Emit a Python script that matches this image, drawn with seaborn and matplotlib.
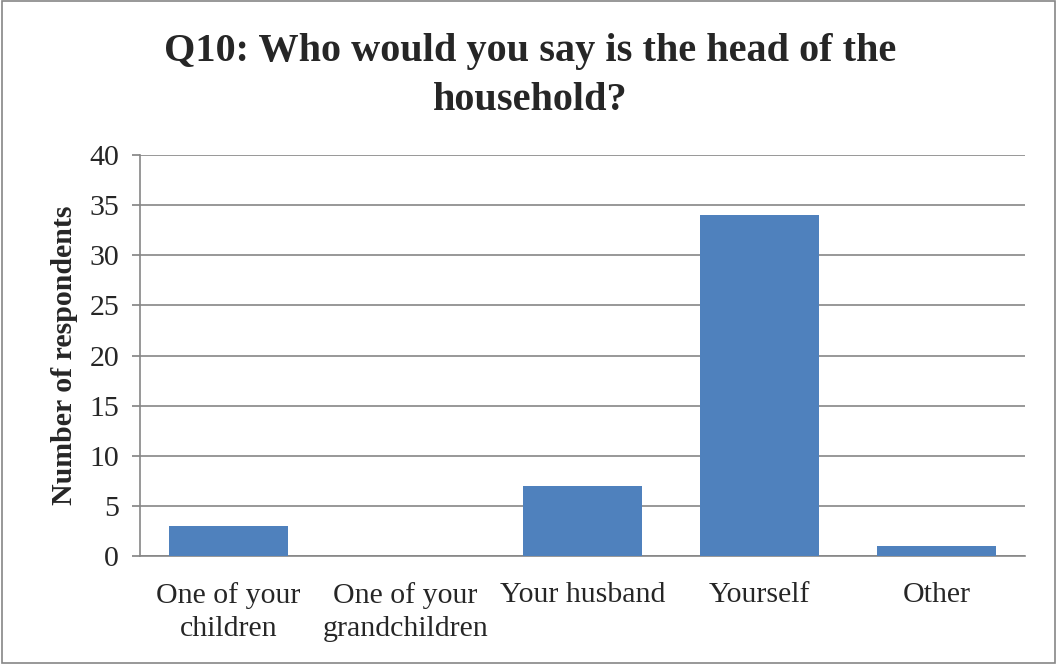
import matplotlib
matplotlib.use("Agg")
import matplotlib.pyplot as plt
import seaborn as sns
import pandas as pd
from matplotlib.patches import Rectangle

categories = ["One of your\nchildren", "One of your\ngrandchildren", "Your husband", "Yourself", "Other"]
values = [3, 0, 7, 34, 1]
yticks = [0, 5, 10, 15, 20, 25, 30, 35, 40]

sns.set_theme(style="white")
plt.rcParams['font.family'] = ['Liberation Serif', 'DejaVu Serif']

df = pd.DataFrame({"cat": categories, "val": values})

fig = plt.figure(figsize=(10.57, 6.64), dpi=100)
ax = fig.add_axes([140/1057, 1-556/664, 885/1057, 401/664])

sns.barplot(data=df, x="cat", y="val", color="#4F81BD", saturation=1, width=0.667,
            linewidth=0, ax=ax, zorder=3)

ax.set_ylim(0, 40)
ax.set_yticks(yticks)
ax.set_xlim(-0.5, 4.5)
ax.yaxis.grid(True, color="#868686", linewidth=1.2, zorder=0)
ax.set_axisbelow(True)
for s in ["top", "right"]:
    ax.spines[s].set_visible(False)
ax.spines["left"].set_color("#868686")
ax.spines["bottom"].set_color("#868686")
ax.spines["left"].set_linewidth(1.2)
ax.spines["bottom"].set_linewidth(1.2)
ax.tick_params(axis="y", left=True, length=6, color="#868686", labelsize=21.5, pad=9)
ax.tick_params(axis="x", bottom=False, labelsize=21.5, pad=13)
ax.set_xlabel("")
ax.set_ylabel("Number of respondents", fontsize=21.5, fontweight="bold", labelpad=8)
for lab in ax.get_xticklabels():
    lab.set_linespacing(1.35)

fig.text(530/1057, 1-76/664, "Q10: Who would you say is the head of the\nhousehold?",
         ha="center", va="center", fontsize=29, fontweight="bold", linespacing=1.4)

fig.patches.append(Rectangle((0.002, 0.002), 0.996, 0.996, transform=fig.transFigure,
                             fill=False, edgecolor="#868686", linewidth=1.2))

fig.savefig("out.png", dpi=100)
